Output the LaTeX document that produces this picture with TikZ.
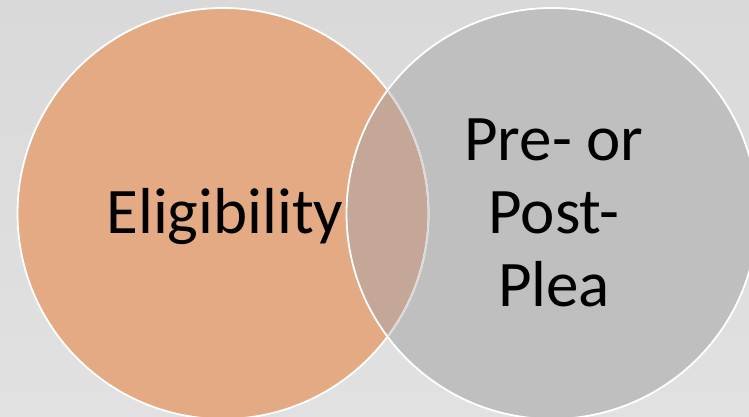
\documentclass[tikz,border=0pt]{standalone}
\usepackage{fontspec}
\setmainfont{Carlito}
\definecolor{bgtop}{RGB}{217,217,217}
\definecolor{bgbot}{RGB}{225,225,225}
\definecolor{orangefill}{RGB}{227,170,132}
\definecolor{grayfill}{RGB}{191,191,191}
\definecolor{overlapfill}{RGB}{196,167,150}
\tikzset{
  vennlabel/.style={font=\fontsize{65}{73}\selectfont, text=black, inner sep=0pt, align=center},
  vennedge/.style={draw=white, line width=1.8pt}
}
\begin{document}
\begin{tikzpicture}[x=1pt,y=1pt]
  \useasboundingbox (0,0) rectangle (749,416);
  \shade[top color=bgtop, bottom color=bgbot] (0,0) rectangle (749,416);
  \coordinate (lc) at (223,202.5);
  \coordinate (rc) at (552,202.5);
  \fill[orangefill] (lc) circle[radius=205.5];
  \fill[grayfill] (rc) circle[radius=205.5];
  \begin{scope}
    \clip (lc) circle[radius=205.5];
    \fill[overlapfill] (rc) circle[radius=205.5];
  \end{scope}
  \draw[vennedge] (lc) circle[radius=205.5];
  \begin{scope}
    \clip (rc) circle[radius=205.5];
    \draw[draw=grayfill!60!white, line width=1.6pt] (lc) circle[radius=205.5];
  \end{scope}
  \draw[vennedge] (rc) circle[radius=205.5];
  \node[vennlabel, anchor=base] (elig) at (225,183) {Eligibility};
  \node[vennlabel, anchor=center] (plea) at (554,203.5) {Pre- or\\Post-\\Plea};
\end{tikzpicture}
\end{document}
